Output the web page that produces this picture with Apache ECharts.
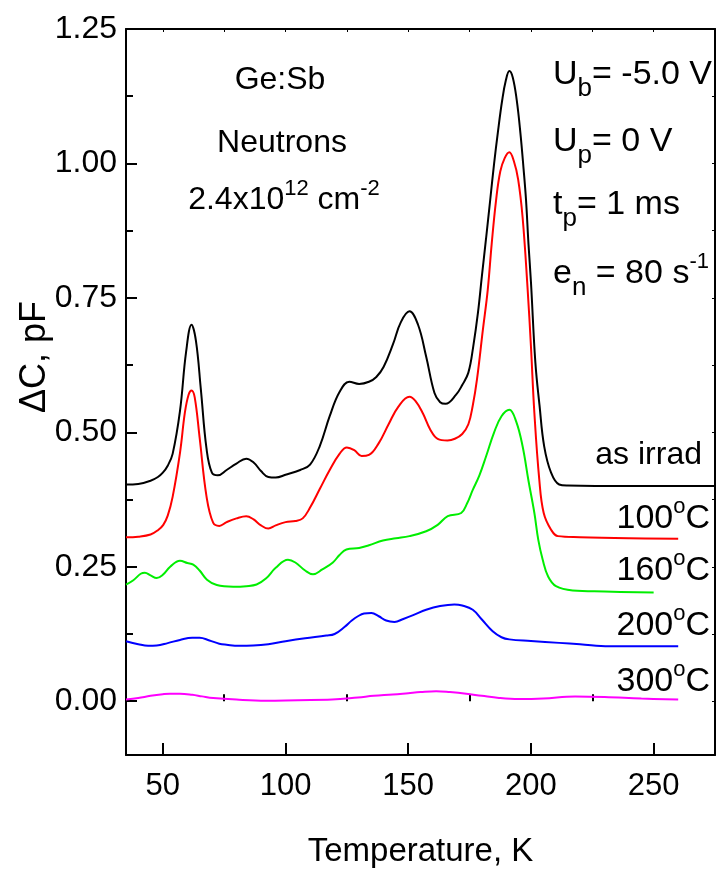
<!DOCTYPE html>
<html>
<head>
<meta charset="utf-8">
<script src="https://cdn.jsdelivr.net/npm/echarts@6/dist/echarts.min.js"></script>
<style>
  html, body { margin: 0; padding: 0; background: #fff; }
  #chart { width: 717px; height: 877px; }
</style>
</head>
<body>
<div id="chart"></div>
<script>
// DLTS spectra, [temperature K, deltaC pF]
const asIrrad = [
  [35, 0.403], [40, 0.404], [45, 0.41], [48, 0.417], [50, 0.425], [52, 0.438], [54, 0.46], [57, 0.54],
  [59.5, 0.65], [61.7, 0.70], [63.5, 0.67], [65.5, 0.58], [67.8, 0.47], [70, 0.425], [72.4, 0.42],
  [76, 0.43], [80, 0.442], [84, 0.451], [87, 0.444], [90, 0.428], [93, 0.417], [96, 0.416], [100, 0.421],
  [106, 0.43], [110, 0.44], [114, 0.475], [118, 0.53], [122, 0.575], [126, 0.594], [130, 0.59],
  [134, 0.594], [137, 0.603], [140, 0.622], [143.8, 0.664], [147, 0.705], [150.5, 0.725], [154, 0.7],
  [157.3, 0.641], [160.7, 0.573], [163, 0.556], [165.2, 0.553], [169.5, 0.57], [172, 0.588], [174.5, 0.611],
  [176.5, 0.66], [178.4, 0.722], [180, 0.79], [181.7, 0.86], [183.4, 0.932], [185, 1.0], [186.5, 1.057],
  [188.3, 1.118], [189.8, 1.155], [191.2, 1.172], [192.6, 1.16], [194.2, 1.118], [195.7, 1.057],
  [197, 0.99], [198, 0.932], [199, 0.85], [200, 0.78], [201.8, 0.63], [203.5, 0.55], [205.4, 0.474],
  [208.2, 0.425], [211.5, 0.403], [215, 0.401], [240, 0.40], [275, 0.40]
];
const ann100 = [
  [35, 0.305], [40, 0.306], [45, 0.31], [48, 0.318], [50.2, 0.328], [52, 0.345], [54, 0.38], [57, 0.462],
  [59, 0.537], [60.5, 0.57], [61.7, 0.578], [63, 0.565], [65, 0.49], [67.8, 0.381], [70.5, 0.332],
  [73, 0.326], [76, 0.333], [80, 0.34], [84, 0.344], [87, 0.338], [90, 0.327], [93, 0.321], [96, 0.327],
  [100, 0.333], [104, 0.335], [107, 0.34], [110, 0.36], [114, 0.395], [118, 0.43], [122, 0.46],
  [125, 0.472], [128, 0.467], [131, 0.456], [134, 0.458], [138, 0.48], [142, 0.515], [146, 0.548],
  [150.5, 0.566], [153, 0.558], [156, 0.535], [159, 0.505], [162, 0.488], [166, 0.485], [169, 0.488],
  [172, 0.497], [174.5, 0.515], [176.3, 0.55], [178, 0.598], [180.4, 0.69], [182.4, 0.765], [184, 0.85],
  [185.8, 0.932], [187.5, 0.985], [189.3, 1.01], [191.2, 1.021], [193, 1.005], [194.8, 0.97],
  [196.6, 0.9], [198.6, 0.77], [200, 0.66], [201.4, 0.536], [203.4, 0.412], [205.2, 0.35],
  [208.2, 0.319], [211, 0.307], [220, 0.305], [240, 0.303], [260, 0.302]
];
const ann160 = [
  [35, 0.217], [38, 0.225], [41, 0.237], [42.7, 0.239], [45, 0.234], [47.5, 0.229], [50, 0.235],
  [53, 0.25], [57, 0.261], [60, 0.257], [62.4, 0.254], [65, 0.243], [68, 0.226], [72, 0.216],
  [78.7, 0.213], [84, 0.214], [88.2, 0.217], [92, 0.228], [96, 0.248], [101, 0.263], [104, 0.258],
  [108, 0.243], [111.2, 0.236], [115, 0.245], [119.3, 0.258], [122, 0.272], [124.8, 0.282], [130, 0.285],
  [134, 0.29], [139.7, 0.299], [145, 0.303], [150.5, 0.307], [157.3, 0.316], [162, 0.328], [166.1, 0.344],
  [171.6, 0.35], [174, 0.368], [176.3, 0.393], [179, 0.42], [181.7, 0.455], [185, 0.5], [188, 0.53],
  [191.2, 0.542], [194, 0.52], [196.6, 0.474], [199, 0.41], [201.4, 0.35], [203, 0.3], [204.8, 0.263],
  [207, 0.232], [210.2, 0.214], [217, 0.206], [230, 0.204], [250, 0.202]
];
const ann200 = [
  [35, 0.1115], [40, 0.106], [44, 0.103], [47.5, 0.1035], [52, 0.108], [57, 0.114], [62, 0.118],
  [65, 0.118], [69, 0.113], [73, 0.107], [76, 0.105], [81, 0.103], [86.8, 0.1035], [93, 0.106],
  [100, 0.1115], [108, 0.117], [116.6, 0.122], [120, 0.125], [124, 0.138], [127, 0.15], [129.5, 0.158],
  [132, 0.163], [135, 0.164], [138, 0.158], [141, 0.15], [144.4, 0.1475], [148, 0.153], [152, 0.16],
  [157.3, 0.17], [163, 0.177], [168.8, 0.18], [172, 0.178], [176.3, 0.17], [180, 0.152], [184.4, 0.13],
  [188, 0.119], [191.2, 0.115], [200, 0.112], [211.5, 0.1085], [220, 0.106], [231.9, 0.102],
  [245, 0.102], [260, 0.102]
];
const ann300 = [
  [35, 0.003], [40, 0.006], [45, 0.01], [50, 0.013], [52.9, 0.014], [57, 0.014], [62, 0.012], [66, 0.009],
  [70.5, 0.006], [80, 0.003], [92, 0.001], [105, 0.002], [119, 0.003], [129.5, 0.007], [136, 0.01],
  [143.7, 0.0125], [150, 0.015], [155, 0.017], [161.4, 0.0186], [167, 0.017], [173.6, 0.014], [180, 0.01],
  [187, 0.006], [195, 0.004], [205, 0.005], [218, 0.009], [230, 0.008], [245, 0.005], [260, 0.003]
];

const xMajor = [50, 100, 150, 200, 250];
const xMinor = [75, 125, 175, 225];
const yMajor = [0, 0.25, 0.5, 0.75, 1.0, 1.25];
const yMinor = [0.125, 0.375, 0.625, 0.875, 1.125];

const FONT = '"Liberation Sans", Arial, sans-serif';
const chart = echarts.init(document.getElementById('chart'));

function line(data, color) {
  return {
    type: 'line', data: data, smooth: 0.4, showSymbol: false, silent: true,
    lineStyle: { color: color, width: 2 }, clip: true
  };
}

const sub = { fontSize: 26, fontFamily: FONT, color: '#000', lineHeight: 26, padding: [24, 0, 0, 0], verticalAlign: 'top' };
const sup = { fontSize: 22, fontFamily: FONT, color: '#000', lineHeight: 22, padding: [0, 0, 0, 0], verticalAlign: 'top' };
const big = { fontSize: 34, fontFamily: FONT, color: '#000', lineHeight: 34, verticalAlign: 'top', padding: [6, 0, 0, 0] };

const option = {
  animation: false,
  backgroundColor: '#fff',
  grid: { left: 126, right: 2, top: 29, bottom: 122 },
  xAxis: [
    {
      type: 'value', min: 35, max: 275, position: 'bottom',
      name: 'Temperature, K', nameLocation: 'middle', nameGap: 80,
      nameTextStyle: { fontSize: 33, fontFamily: FONT, color: '#000' },
      axisLine: { show: true, onZero: false, lineStyle: { color: '#000', width: 2 } },
      axisTick: { show: true, inside: true, length: 12, customValues: xMajor, lineStyle: { color: '#000', width: 2 } },
      axisLabel: { customValues: xMajor, fontSize: 31, fontFamily: FONT, color: '#000', margin: 16 },
      splitLine: { show: false }
    },
    {
      type: 'value', min: 35, max: 275, position: 'bottom',
      axisLine: { show: false },
      axisTick: { show: true, inside: true, length: 7, customValues: xMinor, lineStyle: { color: '#000', width: 2 } },
      axisLabel: { show: false }, splitLine: { show: false }
    },
    {
      type: 'value', min: 35, max: 275, position: 'top',
      axisLine: { show: true, onZero: false, lineStyle: { color: '#000', width: 2 } },
      axisTick: { show: true, inside: true, length: 3, customValues: xMajor.concat(xMinor), lineStyle: { color: '#000', width: 1 } },
      axisLabel: { show: false }, splitLine: { show: false }
    }
  ],
  yAxis: [
    {
      type: 'value', min: -0.1, max: 1.25, position: 'left',
      axisLine: { show: true, onZero: false, lineStyle: { color: '#000', width: 2 } },
      axisTick: { show: true, inside: true, length: 11, customValues: yMajor, lineStyle: { color: '#000', width: 2 } },
      axisLabel: { customValues: yMajor, fontSize: 32, fontFamily: FONT, color: '#000', margin: 9,
        formatter: v => v.toFixed(2) },
      splitLine: { show: false }
    },
    {
      type: 'value', min: -0.1, max: 1.25, position: 'left',
      axisLine: { show: false },
      axisTick: { show: true, inside: true, length: 7, customValues: yMinor, lineStyle: { color: '#000', width: 2 } },
      axisLabel: { show: false }, splitLine: { show: false }
    },
    {
      type: 'value', min: -0.1, max: 1.25, position: 'right',
      axisLine: { show: true, onZero: false, lineStyle: { color: '#000', width: 2 } },
      axisTick: { show: true, inside: true, length: 3, customValues: yMajor.concat(yMinor), lineStyle: { color: '#000', width: 1 } },
      axisLabel: { show: false }, splitLine: { show: false }
    }
  ],
  series: [
    line(asIrrad, '#000000'),
    line(ann100, '#ff0000'),
    line(ann160, '#00ee00'),
    line(ann200, '#0000ff'),
    line(ann300, '#ff00ff')
  ],
  graphic: [
    {
      type: 'text', x: 35, y: 357, rotation: Math.PI / 2, z: 10,
      style: { text: 'ΔC, pF', fill: '#000', font: '36px ' + FONT, align: 'center', verticalAlign: 'middle' }
    },
    { type: 'text', x: 280, y: 80, style: { text: 'Ge:Sb', fill: '#000', font: '32px ' + FONT, align: 'center', verticalAlign: 'middle' } },
    { type: 'text', x: 282, y: 143, style: { text: 'Neutrons', fill: '#000', font: '32px ' + FONT, align: 'center', verticalAlign: 'middle' } },
    {
      type: 'text', x: 284, y: 178, z: 10,
      style: {
        text: '{m|2.4x10}{u|12}{m| cm}{u|-2}', align: 'center',
        rich: { m: Object.assign({}, big, { fontSize: 32, lineHeight: 32 }), u: sup }
      }
    },
    {
      type: 'text', x: 553, y: 52, z: 10,
      style: { text: '{m|U}{s|b}{m|= -5.0 V}', rich: { m: big, s: sub } }
    },
    {
      type: 'text', x: 553, y: 119, z: 10,
      style: { text: '{m|U}{s|p}{m|= 0 V}', rich: { m: big, s: sub } }
    },
    {
      type: 'text', x: 553, y: 182, z: 10,
      style: { text: '{m|t}{s|p}{m|= 1 ms}', rich: { m: big, s: sub } }
    },
    {
      type: 'text', x: 553, y: 251, z: 10,
      style: { text: '{m|e}{s|n}{m| = 80 s}{u|-1}', rich: { m: big, s: sub, u: sup } }
    },
    { type: 'text', x: 702, y: 455, style: { text: 'as irrad', fill: '#000', font: '32px ' + FONT, align: 'right', verticalAlign: 'middle' } },
    {
      type: 'text', x: 710, y: 496, z: 10,
      style: { text: '{m|100}{u|o}{m|C}', align: 'right', rich: { m: big, u: sup } }
    },
    {
      type: 'text', x: 710, y: 548, z: 10,
      style: { text: '{m|160}{u|o}{m|C}', align: 'right', rich: { m: big, u: sup } }
    },
    {
      type: 'text', x: 710, y: 603, z: 10,
      style: { text: '{m|200}{u|o}{m|C}', align: 'right', rich: { m: big, u: sup } }
    },
    {
      type: 'text', x: 710, y: 659, z: 10,
      style: { text: '{m|300}{u|o}{m|C}', align: 'right', rich: { m: big, u: sup } }
    }
  ]
};
chart.setOption(option);
</script>
</body>
</html>
